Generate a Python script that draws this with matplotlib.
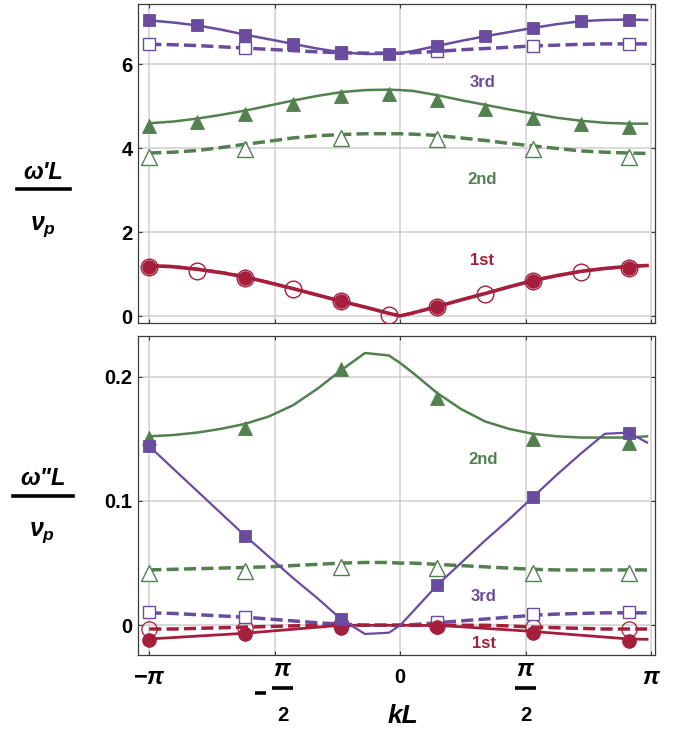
import numpy as np
import matplotlib
matplotlib.use("Agg")
import matplotlib.pyplot as plt
from matplotlib.lines import Line2D

plt.rcParams['font.family'] = ['Liberation Sans', 'DejaVu Sans']
plt.rcParams['font.weight'] = 'bold'
plt.rcParams['mathtext.fontset'] = 'custom'
plt.rcParams['mathtext.rm'] = 'Liberation Sans:bold'
plt.rcParams['mathtext.it'] = 'Liberation Sans:bold:italic'
plt.rcParams['mathtext.bf'] = 'Liberation Sans:bold'

# ---------------- data ----------------
kL_line = [-3.14, -2.84, -2.54, -2.24, -1.94, -1.64, -1.34, -1.04, -0.74, -0.44, -0.14, 0.0,
           0.16, 0.46, 0.76, 1.06, 1.36, 1.66, 1.96, 2.26, 2.56, 2.86, 3.09]
kL_pts = [-3.14, -2.54, -1.94, -1.34, -0.74, -0.14, 0.46, 1.06, 1.66, 2.26, 2.86]
kL_pts_even = [-3.14, -1.94, -0.74, 0.46, 1.66, 2.86]

# top panel: omega' L / v_p
w1_solid_line = [1.21, 1.18, 1.12, 1.04, 0.94, 0.80, 0.66, 0.51, 0.36, 0.22, 0.07, 0.01,
                 0.08, 0.23, 0.39, 0.54, 0.70, 0.85, 0.97, 1.07, 1.14, 1.19, 1.21]
w1_dash_line = [1.21, 1.19, 1.13, 1.05, 0.94, 0.81, 0.66, 0.51, 0.36, 0.22, 0.07, 0.01,
                0.08, 0.23, 0.39, 0.55, 0.70, 0.85, 0.97, 1.07, 1.14, 1.19, 1.21]
w2_solid_line = [4.60, 4.64, 4.71, 4.80, 4.90, 5.02, 5.14, 5.25, 5.34, 5.39, 5.40, 5.39,
                 5.37, 5.27, 5.15, 5.04, 4.93, 4.83, 4.73, 4.66, 4.61, 4.59, 4.59]
w2_dash_line = [3.89, 3.91, 3.95, 4.02, 4.10, 4.17, 4.25, 4.30, 4.33, 4.35, 4.35, 4.35,
                4.34, 4.31, 4.25, 4.19, 4.12, 4.06, 4.00, 3.94, 3.91, 3.89, 3.88]
w3_solid_line = [7.05, 7.00, 6.93, 6.83, 6.71, 6.60, 6.49, 6.38, 6.29, 6.25, 6.25, 6.27,
                 6.32, 6.44, 6.56, 6.67, 6.77, 6.87, 6.96, 7.03, 7.06, 7.07, 7.06]
w3_dash_line = [6.48, 6.47, 6.45, 6.42, 6.39, 6.36, 6.33, 6.30, 6.28, 6.27, 6.27, 6.27,
                6.28, 6.31, 6.35, 6.38, 6.41, 6.44, 6.46, 6.48, 6.49, 6.49, 6.49]

w3_filled = [7.05, 6.93, 6.71, 6.49, 6.29, 6.25, 6.44, 6.67, 6.87, 7.03, 7.07]
w3_hollow = [6.48, 6.39, 6.28, 6.31, 6.44, 6.49]
w2_filled = [4.54, 4.63, 4.83, 5.06, 5.26, 5.29, 5.16, 4.94, 4.73, 4.57, 4.51]
w2_hollow = [3.79, 3.99, 4.25, 4.23, 3.98, 3.79]
w1_filled = [1.18, 0.92, 0.36, 0.22, 0.83, 1.16]
w1_hollow = [1.18, 1.09, 0.92, 0.65, 0.36, 0.04, 0.22, 0.53, 0.83, 1.06, 1.16]

# bottom panel: omega'' L / v_p
w1pp_solid_line = [-0.011, -0.0099, -0.0087, -0.0076, -0.0064, -0.0048, -0.0032, -0.0016, 0.0, 0.0,
                   0.0, 0.0, 0.0, -0.0002, -0.0012, -0.0025, -0.0037, -0.005, -0.0065, -0.008,
                   -0.0095, -0.011, -0.0113]
w1pp_dash_line = [-0.003, -0.003, -0.0025, -0.002, -0.0015, -0.001, -0.0005, 0.0, 0.0, 0.0, 0.0, 0.0,
                  0.0, 0.0, 0.0, 0.0, -0.0005, -0.0015, -0.002, -0.0025, -0.003, -0.003, -0.003]
w2pp_solid_line = [0.152, 0.153, 0.155, 0.158, 0.162, 0.168, 0.177, 0.190, 0.205, 0.219, 0.217, 0.211,
                   0.203, 0.187, 0.174, 0.164, 0.158, 0.154, 0.152, 0.151, 0.151, 0.151, 0.152]
w2pp_dash_line = [0.0445, 0.045, 0.0455, 0.046, 0.0465, 0.047, 0.048, 0.049, 0.050, 0.0505, 0.0505,
                  0.050, 0.050, 0.049, 0.048, 0.047, 0.046, 0.045, 0.0445, 0.0445, 0.0445, 0.0445, 0.0445]
w3pp_solid_line = [0.144, 0.126, 0.108, 0.090, 0.072, 0.055, 0.038, 0.022, 0.005, -0.007, -0.006, 0.0,
                   0.011, 0.032, 0.050, 0.068, 0.085, 0.103, 0.121, 0.138, 0.154, 0.155, 0.147]
w3pp_dash_line = [0.010, 0.0095, 0.0085, 0.0075, 0.0065, 0.005, 0.0035, 0.002, 0.001, 0.0, 0.0, 0.0,
                  0.0005, 0.002, 0.0035, 0.005, 0.0065, 0.008, 0.009, 0.0095, 0.010, 0.010, 0.010]

w1pp_filled = [-0.012, -0.007, -0.0025, -0.001, -0.0065, -0.0124]
w1pp_hollow = [-0.003, -0.002, 0.0, -0.0005, -0.0015, -0.003]
w2pp_filled = [0.151, 0.159, 0.206, 0.183, 0.150, 0.147]
w2pp_hollow = [0.042, 0.044, 0.047, 0.046, 0.042, 0.042]
w3pp_filled = [0.144, 0.072, 0.005, 0.032, 0.103, 0.155]
w3pp_hollow = [0.011, 0.007, 0.0, 0.003, 0.009, 0.011]

top_yticks = [0, 2, 4, 6]
top_yticklabels = ['0', '2', '4', '6']
bot_yticks = [0, 0.1, 0.2]
bot_yticklabels = ['0', '0.1', '0.2']
band_labels = ['1st', '2nd', '3rd']

# ---------------- style ----------------
C_PUR = '#6a4c9f'
C_GRN = '#52804f'
C_RED = '#a51f3d'
GRID = '#cfcfcf'
FRAME = '#3a3a3a'
DASH = (3.5, 1.5)

fig = plt.figure(figsize=(6.88, 7.31), dpi=100)
ax1 = fig.add_axes([0.2006, 0.5581, 0.7515, 0.4364])
ax2 = fig.add_axes([0.2006, 0.1040, 0.7515, 0.4364])

xt = [-np.pi, -np.pi / 2, 0, np.pi / 2, np.pi]
for ax in (ax1, ax2):
    ax.set_xlim(-3.28, 3.19)
    ax.set_xticks(xt)
    ax.set_xticklabels([])
    ax.grid(True, color=GRID, lw=1.1, zorder=0)
    ax.set_axisbelow(True)
    for sp in ax.spines.values():
        sp.set_color(FRAME)
        sp.set_linewidth(0.9)
    ax.tick_params(direction='in', length=3, width=0.8, color=FRAME,
                   top=True, right=True, labelsize=14.5, pad=4)

ax1.set_ylim(-0.16, 7.44)
ax1.set_yticks(top_yticks)
ax1.set_yticklabels(top_yticklabels, fontweight='bold')
ax2.set_ylim(-0.0239, 0.2327)
ax2.set_yticks(bot_yticks)
ax2.set_yticklabels(bot_yticklabels, fontweight='bold')

x_line = np.array(kL_line)

def draw(ax, color, solid, dash, xf, filled, xh, hollow, fmark, hmark, fsize, hsize,
         lw_s=1.8, lw_d=2.5, hollow_face='white'):
    ax.plot(x_line, dash, color=color, lw=lw_d, dashes=DASH, zorder=3, solid_capstyle='butt')
    ax.plot(xh, hollow, ls='none', marker=hmark, ms=hsize, mfc=hollow_face, mec=color,
            mew=1.0, zorder=4)
    ax.plot(x_line, solid, color=color, lw=lw_s, zorder=5)
    ax.plot(xf, filled, ls='none', marker=fmark, ms=fsize, mfc=color, mec=color,
            mew=0.6, zorder=6)

# top panel
draw(ax1, C_GRN, w2_solid_line, w2_dash_line, kL_pts, w2_filled, kL_pts_even, w2_hollow,
     '^', '^', 10.5, 11.5)
draw(ax1, C_PUR, w3_solid_line, w3_dash_line, kL_pts, w3_filled, kL_pts_even, w3_hollow,
     's', 's', 9.2, 8)
ax1.plot(x_line, w1_dash_line, color=C_RED, lw=2.0, dashes=DASH, zorder=3)
ax1.plot(x_line, w1_solid_line, color=C_RED, lw=2.6, zorder=5)
ax1.plot(kL_pts_even, w1_filled, ls='none', marker='o', ms=9.5, mfc=C_RED, mec=C_RED, zorder=6)
ax1.plot(kL_pts, w1_hollow, ls='none', marker='o', ms=12, mfc='none', mec=C_RED, mew=1.0, zorder=7)

# bottom panel
draw(ax2, C_GRN, w2pp_solid_line, w2pp_dash_line, kL_pts_even, w2pp_filled, kL_pts_even, w2pp_hollow,
     '^', '^', 10.5, 11.5)
ax2.plot(x_line, w1pp_dash_line, color=C_RED, lw=2.5, dashes=DASH, zorder=3)
ax2.plot(kL_pts_even, w1pp_hollow, ls='none', marker='o', ms=11, mfc='none', mec=C_RED, mew=0.9, zorder=4)
ax2.plot(x_line, w1pp_solid_line, color=C_RED, lw=2.0, zorder=5)
ax2.plot(kL_pts_even, w1pp_filled, ls='none', marker='o', ms=9.5, mfc=C_RED, mec=C_RED, zorder=6)
draw(ax2, C_PUR, w3pp_solid_line, w3pp_dash_line, kL_pts_even, w3pp_filled, kL_pts_even, w3pp_hollow,
     's', 's', 9.2, 8, lw_s=1.6)

# band labels
BL = 12
ax1.text(1.03, 5.56, band_labels[2], color=C_PUR, fontsize=BL, fontweight='bold', ha='center', va='center')
ax1.text(1.03, 3.26, band_labels[1], color=C_GRN, fontsize=BL, fontweight='bold', ha='center', va='center')
ax1.text(1.03, 1.33, band_labels[0], color=C_RED, fontsize=BL, fontweight='bold', ha='center', va='center')
ax2.text(1.04, 0.133, band_labels[1], color=C_GRN, fontsize=BL, fontweight='bold', ha='center', va='center')
ax2.text(1.05, 0.023, band_labels[2], color=C_PUR, fontsize=BL, fontweight='bold', ha='center', va='center')
ax2.text(1.05, -0.015, band_labels[0], color=C_RED, fontsize=BL, fontweight='bold', ha='center', va='center')

# x tick labels (manual, Mathematica style)
tr = ax2.get_xaxis_transform()
TS = 14.5
PS = 17
ax2.text(-np.pi, -0.072, r'$-\pi$', transform=tr, ha='center', va='center', fontsize=PS)
ax2.text(0, -0.072, '0', transform=tr, ha='center', va='center', fontsize=TS, fontweight='bold')
ax2.text(np.pi, -0.072, r'$\pi$', transform=tr, ha='center', va='center', fontsize=PS)
px = (np.pi * 2) / 502.0  # radians per pixel
for c, neg in ((-np.pi / 2, True), (np.pi / 2, False)):
    fc = c + (8 * px if neg else 0)
    ax2.text(fc, -0.047, r'$\pi$', transform=tr, ha='center', va='center', fontsize=PS)
    ax2.text(fc, -0.190, '2', transform=tr, ha='center', va='center', fontsize=TS, fontweight='bold')
    ax2.add_line(Line2D([fc - 10.5 * px, fc + 10.5 * px], [-0.104, -0.104], transform=tr,
                        color='black', lw=2.6, clip_on=False, solid_capstyle='butt'))
    if neg:
        ax2.add_line(Line2D([c - 20 * px, c - 8.5 * px], [-0.119, -0.119], transform=tr,
                            color='black', lw=2.6, clip_on=False, solid_capstyle='butt'))
ax2.text(0.03, -0.191, 'kL', transform=tr, ha='center', va='center', fontsize=19,
         fontweight='bold', fontstyle='italic')

# y labels as fractions
def ylab(num, ynum, ybar, yden, x0, x1):
    fig.text((x0 + x1) / 2, ynum, num, ha='center', va='center', fontsize=17,
             fontweight='bold', fontstyle='italic')
    fig.add_artist(Line2D([x0, x1], [ybar, ybar], transform=fig.transFigure, color='black', lw=2.6))
    fig.text((x0 + x1) / 2 - 0.001, yden, r'$\nu_p$', ha='center', va='center', fontsize=18)

ylab("ω'L", 0.7647, 0.7415, 0.690, 0.0247, 0.1017)
ylab('ω"L', 0.3460, 0.3215, 0.271, 0.0189, 0.1061)

fig.savefig('out.png', dpi=100)
